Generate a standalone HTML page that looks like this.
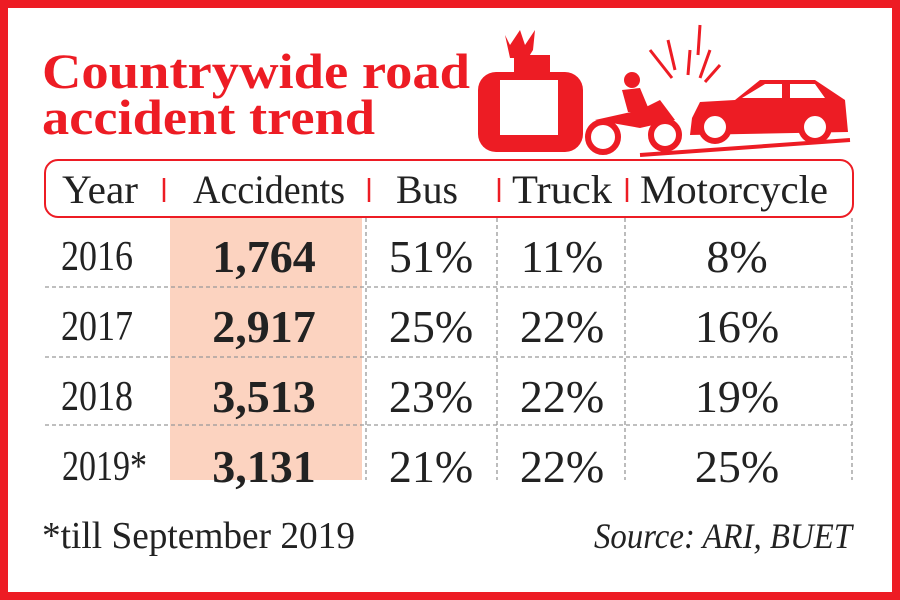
<!DOCTYPE html>
<html><head><style>html,body{margin:0;padding:0;background:#fff}svg{display:block}</style></head>
<body>
<svg width="900" height="600" viewBox="0 0 900 600" xmlns="http://www.w3.org/2000/svg" font-family="Liberation Serif, serif">
<rect x="0" y="0" width="900" height="600" fill="#ed1c24"/>
<rect x="8" y="8" width="884" height="584" fill="#fff"/>
<g fill="#ed1c24" font-weight="bold" font-size="50">
<text x="42" y="88" textLength="428" lengthAdjust="spacingAndGlyphs">Countrywide road</text>
<text x="42" y="134" textLength="333" lengthAdjust="spacingAndGlyphs">accident trend</text>
</g>
<!-- illustration -->
<g fill="#ed1c24" stroke="#ed1c24">
<rect x="478" y="72" width="105" height="80" rx="18" stroke="none"/>
<rect x="514" y="55" width="36" height="18" stroke="none"/>
<rect x="500" y="80" width="58" height="55" fill="#fff" stroke="none"/>
<circle cx="603" cy="137" r="15" fill="#fff" stroke-width="6"/>
<circle cx="665" cy="135" r="14" fill="#fff" stroke-width="6"/>
<path d="M595 120 L640 110 L660 100 L675 120 L640 128 Z" stroke="none"/>
<circle cx="632" cy="80" r="8" stroke="none"/>
<path d="M622 90 L640 88 L650 112 L628 112Z" stroke="none"/>
<path d="M692 118 L700 102 L735 100 L760 80 L815 80 L845 100 L848 132 L690 135Z" stroke="none"/>
<path d="M742 98 L765 84 L782 84 L782 98Z M790 84 L815 84 L825 98 L790 98Z" fill="#fff" stroke="none"/>
<circle cx="715" cy="127" r="14" fill="#fff" stroke-width="6"/>
<circle cx="815" cy="127" r="14" fill="#fff" stroke-width="6"/>
<path d="M640 155 L850 140" stroke-width="4"/>
<g stroke-width="3"><path d="M668 40 L675 70 M690 50 L688 75 M710 50 L700 78 M650 50 L672 78 M720 65 L705 82 M700 25 L698 55"/></g>
<path d="M505 35 L510 45 L520 30 L525 45 L535 30 L533 50 L528 58 L510 58Z" stroke="none"/>
</g>
<!-- header box -->
<rect x="45" y="160" width="808" height="57" rx="13" fill="none" stroke="#ed1c24" stroke-width="2"/>
<rect x="170" y="218" width="192" height="262" fill="#fcd3c0"/>
<g stroke="#ed1c24" stroke-width="2.5">
<line x1="164" y1="178" x2="164" y2="202"/><line x1="369" y1="178" x2="369" y2="202"/>
<line x1="499" y1="178" x2="499" y2="202"/><line x1="627" y1="178" x2="627" y2="202"/>
</g>
<g fill="#222" font-size="40">
<text x="62" y="203" textLength="76" lengthAdjust="spacingAndGlyphs">Year</text>
<text x="193" y="203" textLength="152" lengthAdjust="spacingAndGlyphs">Accidents</text>
<text x="396" y="203" textLength="62" lengthAdjust="spacingAndGlyphs">Bus</text>
<text x="512" y="203" textLength="100" lengthAdjust="spacingAndGlyphs">Truck</text>
<text x="640" y="203" textLength="188" lengthAdjust="spacingAndGlyphs">Motorcycle</text>
</g>
<g stroke="#999" stroke-width="1.3" stroke-dasharray="4 3" fill="none">
<line x1="45" y1="287" x2="852" y2="287"/><line x1="45" y1="357" x2="852" y2="357"/><line x1="45" y1="425" x2="852" y2="425"/>
<line x1="366" y1="218" x2="366" y2="480"/><line x1="497" y1="218" x2="497" y2="480"/>
<line x1="625" y1="218" x2="625" y2="480"/><line x1="852" y1="218" x2="852" y2="480"/>
</g>
<g fill="#222" font-size="42">
<g text-anchor="middle">
<text x="97" y="270" textLength="72" lengthAdjust="spacingAndGlyphs">2016</text>
<text x="97" y="340" textLength="72" lengthAdjust="spacingAndGlyphs">2017</text>
<text x="97" y="410" textLength="72" lengthAdjust="spacingAndGlyphs">2018</text>
</g>
<text x="62" y="480" textLength="85" lengthAdjust="spacingAndGlyphs">2019*</text>
<g font-weight="bold" font-size="46" text-anchor="middle">
<text x="264" y="272">1,764</text><text x="264" y="342">2,917</text>
<text x="264" y="412">3,513</text><text x="264" y="482">3,131</text>
</g>
<g font-size="46" text-anchor="middle">
<text x="431" y="272">51%</text><text x="431" y="342">25%</text><text x="431" y="412">23%</text><text x="431" y="482">21%</text>
<text x="562" y="272">11%</text><text x="562" y="342">22%</text><text x="562" y="412">22%</text><text x="562" y="482">22%</text>
<text x="737" y="272">8%</text><text x="737" y="342">16%</text><text x="737" y="412">19%</text><text x="737" y="482">25%</text>
</g>
<text x="42" y="548" font-size="38" textLength="313" lengthAdjust="spacingAndGlyphs">*till September 2019</text>
<text x="594" y="548" font-size="36" font-style="italic" textLength="258" lengthAdjust="spacingAndGlyphs">Source: ARI, BUET</text>
</g>
</svg>
</body></html>
